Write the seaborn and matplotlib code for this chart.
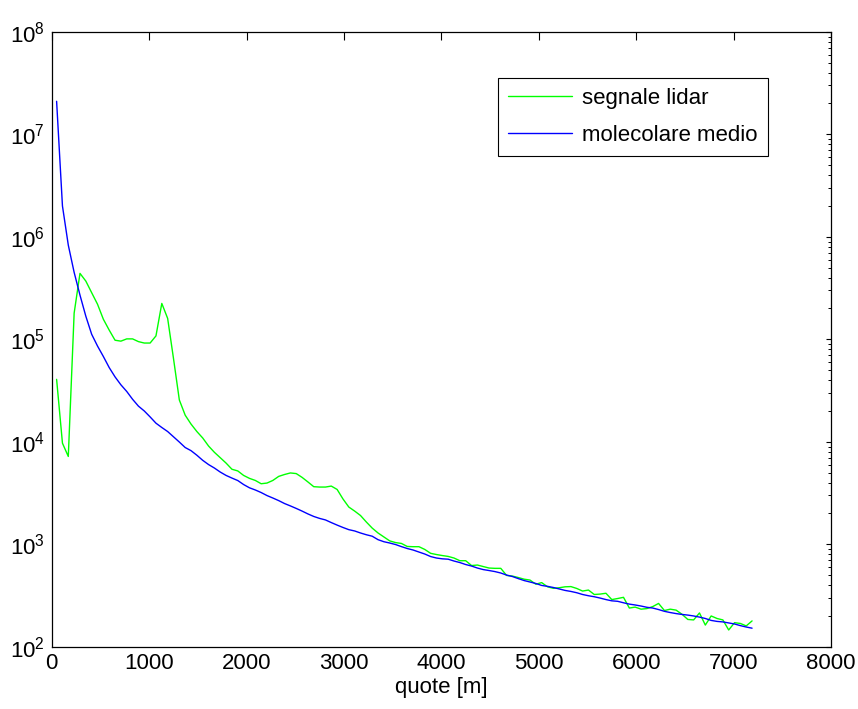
import numpy as np
import pandas as pd
import matplotlib
matplotlib.use("Agg")
import matplotlib.pyplot as plt
from matplotlib.ticker import LogLocator, NullFormatter, FixedLocator
import seaborn as sns

# altitude grid [m]
quote = [
    50, 110, 170, 230, 290, 350, 410, 470, 530, 590,
    650, 710, 770, 830, 890, 950, 1010, 1070, 1130, 1190,
    1250, 1310, 1370, 1430, 1490, 1550, 1610, 1670, 1730, 1790,
    1850, 1910, 1970, 2030, 2090, 2150, 2210, 2270, 2330, 2390,
    2450, 2510, 2570, 2630, 2690, 2750, 2810, 2870, 2930, 2990,
    3050, 3110, 3170, 3230, 3290, 3350, 3410, 3470, 3530, 3590,
    3650, 3710, 3770, 3830, 3890, 3950, 4010, 4070, 4130, 4190,
    4250, 4310, 4370, 4430, 4490, 4550, 4610, 4670, 4730, 4790,
    4850, 4910, 4970, 5030, 5090, 5150, 5210, 5270, 5330, 5390,
    5450, 5510, 5570, 5630, 5690, 5750, 5810, 5870, 5930, 5990,
    6050, 6110, 6170, 6230, 6290, 6350, 6410, 6470, 6530, 6590,
    6650, 6710, 6770, 6830, 6890, 6950, 7010, 7070, 7130, 7190,
]

segnale_lidar = [
    4.07e4, 9.7e3, 7.2e3, 1.8e5, 4.4e5, 3.7e5, 2.85e5, 2.2e5, 1.57e5, 1.23e5,
    9.8e4, 9.6e4, 1.01e5, 1.01e5, 9.5e4, 9.2e4, 9.2e4, 1.08e5, 2.24e5, 1.6e5,
    6.5e4, 2.56e4, 1.82e4, 1.49e4, 1.26e4, 1.09e4, 9.1e3, 7.9e3, 7.0e3, 6.2e3,
    5.4e3, 5.2e3, 4.7e3, 4.4e3, 4.2e3, 3.9e3, 3.96e3, 4.2e3, 4.6e3, 4.8e3,
    4.97e3, 4.9e3, 4.5e3, 4.06e3, 3.65e3, 3.62e3, 3.62e3, 3.7e3, 3.43e3, 2.77e3,
    2.31e3, 2.11e3, 1.91e3, 1.65e3, 1.44e3, 1.29e3, 1.18e3, 1.08e3, 1.04e3, 1.02e3,
    953, 948, 948, 891, 817, 795, 777, 762, 735, 692,
    692, 621, 628, 607, 587, 583, 583, 497, 490, 474,
    457, 448, 408, 423, 385, 372, 377, 385, 387, 371,
    350, 358, 324, 327, 333, 289, 296, 304, 239, 244,
    233, 236, 247, 265, 226, 233, 228, 208, 185, 183,
    214, 163, 200, 189, 183, 146, 172, 169, 160, 179,
]

molecolare_medio = [
    2.1e7, 2.0e6, 8.3e5, 4.5e5, 2.7e5, 1.68e5, 1.12e5, 8.6e4, 6.8e4, 5.3e4,
    4.3e4, 3.6e4, 3.1e4, 2.6e4, 2.23e4, 2.0e4, 1.75e4, 1.52e4, 1.38e4, 1.26e4,
    1.12e4, 9.95e3, 8.8e3, 8.2e3, 7.4e3, 6.6e3, 6.0e3, 5.55e3, 5.07e3, 4.7e3,
    4.43e3, 4.19e3, 3.83e3, 3.56e3, 3.39e3, 3.2e3, 2.99e3, 2.83e3, 2.67e3, 2.5e3,
    2.37e3, 2.24e3, 2.11e3, 1.98e3, 1.87e3, 1.79e3, 1.73e3, 1.63e3, 1.54e3, 1.46e3,
    1.39e3, 1.35e3, 1.29e3, 1.24e3, 1.2e3, 1.11e3, 1.06e3, 1.03e3, 995, 950,
    910, 880, 841, 804, 760, 735, 722, 716, 687, 664,
    635, 614, 587, 567, 555, 542, 525, 501, 485, 463,
    443, 429, 415, 397, 389, 379, 367, 355, 347, 337,
    324, 315, 308, 299, 289, 281, 278, 269, 261, 256,
    250, 243, 239, 231, 222, 216, 211, 207, 204, 200,
    195, 189, 181, 177, 175, 171, 167, 161, 156, 152,
]

series_labels = ["segnale lidar", "molecolare medio"]
series_colors = ["#00ff00", "#0000ff"]
x_ticks = [0, 1000, 2000, 3000, 4000, 5000, 6000, 7000, 8000]
y_exponents = [2, 3, 4, 5, 6, 7, 8]

sns.set_theme(style="white")
plt.rcParams["font.family"] = ["Liberation Sans", "DejaVu Sans"]
plt.rcParams["mathtext.fontset"] = "custom"
plt.rcParams["mathtext.rm"] = "Liberation Sans"
plt.rcParams["mathtext.it"] = "Liberation Sans:italic"
plt.rcParams["text.color"] = "black"
plt.rcParams["axes.labelcolor"] = "black"
plt.rcParams["xtick.color"] = "black"
plt.rcParams["ytick.color"] = "black"

fs = 16

fig = plt.figure(figsize=(8.58, 7.09), dpi=100)
ax = fig.add_axes([0.0603, 0.0877, 0.9082, 0.8674])

df = pd.DataFrame({
    "quote": quote * 2,
    "valore": segnale_lidar + molecolare_medio,
    "serie": [series_labels[0]] * len(quote) + [series_labels[1]] * len(quote),
})

for lab, col in zip(series_labels, series_colors):
    sub = df[df["serie"] == lab]
    sns.lineplot(data=sub, x="quote", y="valore", color=col, linewidth=1.0,
                 label=lab, ax=ax, sort=False, estimator=None)

ax.set_yscale("log")
ax.set_xlim(0, 8000)
ax.set_ylim(1e2, 1e8)

ax.xaxis.set_major_locator(FixedLocator(x_ticks))
ax.set_xticklabels([str(t) for t in x_ticks])
ax.yaxis.set_major_locator(FixedLocator([10.0 ** e for e in y_exponents]))
ax.set_yticklabels([r"$\mathregular{10^{%d}}$" % e for e in y_exponents])
ax.yaxis.set_minor_locator(LogLocator(base=10, subs=np.arange(2, 10) * 1.0, numticks=100))
ax.yaxis.set_minor_formatter(NullFormatter())

ax.tick_params(axis="both", which="both", direction="in", top=True, right=True,
               colors="black", labelcolor="black", labelsize=fs)
ax.tick_params(axis="x", which="major", length=5.8, width=0.8, pad=4.5)
ax.tick_params(axis="y", which="major", length=3.8, width=0.8, pad=5)
ax.tick_params(axis="y", which="minor", length=2.4, width=0.7)
ax.tick_params(axis="x", which="minor", bottom=False, top=False)

for sp in ax.spines.values():
    sp.set_visible(True)
    sp.set_color("black")
    sp.set_linewidth(0.9)

ax.set_xlabel("quote [m]", fontsize=fs, labelpad=2, color="black")
ax.set_ylabel("")
ax.grid(False)

leg = ax.legend(loc="upper left", bbox_to_anchor=(0.5727, 0.9249), borderaxespad=0,
                fontsize=fs, frameon=True, fancybox=False, framealpha=1,
                edgecolor="black", handlelength=2.9, handletextpad=0.45,
                borderpad=0.45, labelspacing=0.7)
leg.get_frame().set_linewidth(0.8)
for t in leg.get_texts():
    t.set_color("black")

fig.savefig("out.png", dpi=100)
